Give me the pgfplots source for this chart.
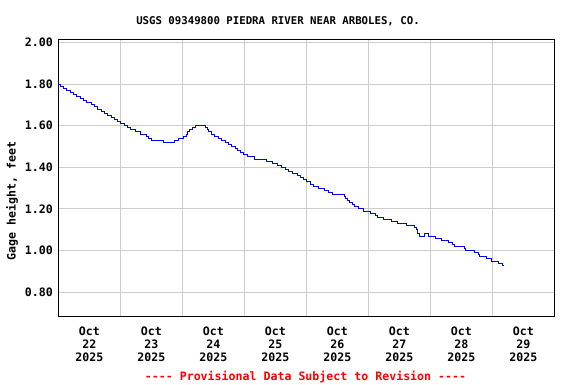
\documentclass[border=0pt]{standalone}
\usepackage{pgfplots}
\pgfplotsset{compat=1.18}
\usepackage{fontspec}
\setmonofont{DejaVu Sans Mono}
\newcommand{\gd}{\fontsize{11.6}{13}\selectfont\ttfamily\bfseries}
\newcommand{\gdt}{\fontsize{10.7}{13}\selectfont\ttfamily\bfseries}
\begin{document}
\begin{tikzpicture}[x=1pt,y=1pt]
\path[use as bounding box] (0,0) rectangle (576,384);
\begin{axis}[
  anchor=south west, at={(58.3pt,68pt)},
  width=496pt, height=276.7pt, scale only axis,
  xmin=0, xmax=8, ymin=0.686, ymax=2.015,
  xtick={0.5,1.5,2.5,3.5,4.5,5.5,6.5,7.5},
  xticklabels={Oct\\22\\2025,Oct\\23\\2025,Oct\\24\\2025,Oct\\25\\2025,Oct\\26\\2025,Oct\\27\\2025,Oct\\28\\2025,Oct\\29\\2025},
  minor xtick={1,2,3,4,5,6,7},
  xminorgrids, xmajorgrids=false,
  ytick={0.8,1.0,1.2,1.4,1.6,1.8,2.0},
  ymajorgrids,
  grid style={draw={rgb,255:red,204;green,204;blue,204}, line width=1pt},
  minor grid style={draw={rgb,255:red,204;green,204;blue,204}, line width=1pt},
  major tick length=0pt, minor tick length=0pt,
  axis line style={black, line width=1pt},
  xticklabel style={align=center, font=\gd, yshift=-7pt},
  yticklabel style={font=\gd, xshift=-2pt},
  /pgf/number format/.cd, fixed, fixed zerofill, precision=2, assume math mode=true,
]
\addplot[const plot, draw=blue, line width=1pt] coordinates {
(0.00,1.80) (0.04,1.79) (0.08,1.78) (0.14,1.77) (0.19,1.76) (0.25,1.75) (0.30,1.74) (0.35,1.73) (0.40,1.72) (0.46,1.71)
(0.53,1.70) (0.58,1.69) (0.64,1.68) (0.69,1.67) (0.75,1.66) (0.80,1.65) (0.86,1.64) (0.91,1.63) (0.96,1.62) (1.01,1.61)
(1.06,1.60) (1.12,1.59) (1.17,1.58) (1.24,1.57) (1.32,1.56) (1.42,1.55) (1.46,1.54) (1.51,1.53) (1.69,1.52) (1.87,1.53)
(1.94,1.54) (2.02,1.55) (2.06,1.56) (2.09,1.57) (2.12,1.58) (2.16,1.59) (2.21,1.60) (2.37,1.59) (2.40,1.58) (2.43,1.57)
(2.47,1.56) (2.52,1.55) (2.58,1.54) (2.64,1.53) (2.70,1.52) (2.75,1.51) (2.80,1.50) (2.85,1.49) (2.89,1.48) (2.94,1.47)
(2.99,1.46) (3.05,1.45) (3.16,1.44) (3.35,1.43) (3.46,1.42) (3.53,1.41) (3.60,1.40) (3.66,1.39) (3.72,1.38) (3.78,1.37)
(3.85,1.36) (3.90,1.35) (3.95,1.34) (4.01,1.33) (4.06,1.32) (4.11,1.31) (4.20,1.30) (4.29,1.29) (4.36,1.28) (4.42,1.27)
(4.62,1.26) (4.64,1.25) (4.67,1.24) (4.70,1.23) (4.74,1.22) (4.78,1.21) (4.84,1.20) (4.93,1.19) (5.03,1.18) (5.11,1.17)
(5.15,1.16) (5.25,1.15) (5.37,1.14) (5.47,1.13) (5.62,1.12) (5.75,1.11) (5.77,1.10) (5.79,1.09) (5.80,1.08) (5.82,1.07)
(5.91,1.08) (5.97,1.07) (6.08,1.06) (6.18,1.05) (6.29,1.04) (6.35,1.03) (6.39,1.02) (6.55,1.01) (6.57,1.00) (6.72,0.99)
(6.77,0.98) (6.80,0.97) (6.91,0.96) (6.99,0.95) (7.10,0.94) (7.17,0.93) (7.19,0.93)
};
\end{axis}
\node[font=\gdt] at (278,363) {USGS 09349800 PIEDRA RIVER NEAR ARBOLES, CO.};
\node[font=\gd, rotate=90] at (12,183) {Gage height, feet};
\node[font=\gd, text=red] at (305.5,7) {---{}- Provisional Data Subject to Revision ---{}-};
\end{tikzpicture}
\end{document}
